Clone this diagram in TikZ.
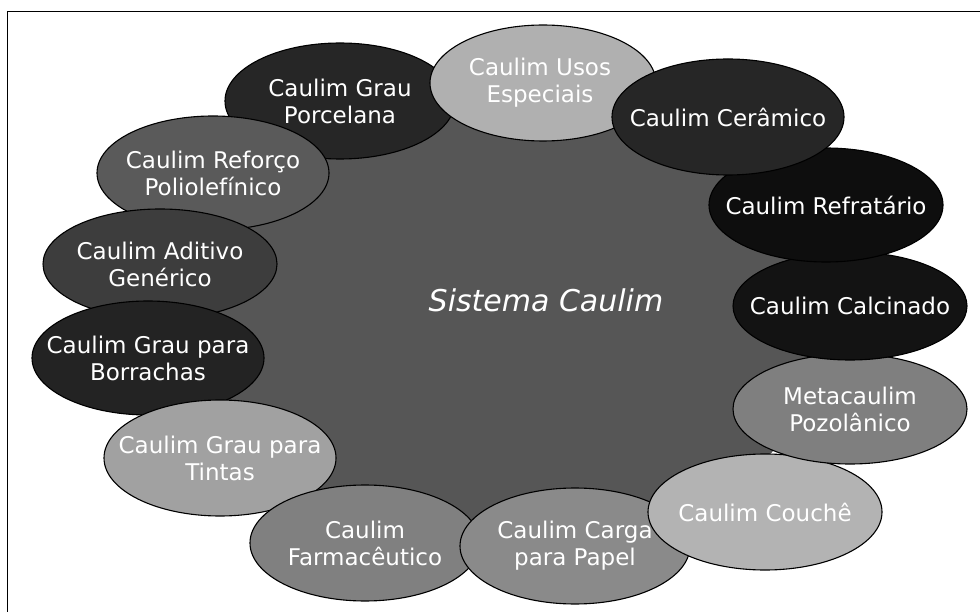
\documentclass[tikz,border=0pt]{standalone}
\usepackage{fontspec}
\setmainfont{DejaVu Sans}
\usetikzlibrary{shapes.geometric}
\definecolor{cCentral}{HTML}{565656}
\definecolor{cPorcelana}{HTML}{262626}
\definecolor{cUsos}{HTML}{B0B0B0}
\definecolor{cCeramico}{HTML}{262626}
\definecolor{cRefratario}{HTML}{0E0E0E}
\definecolor{cCalcinado}{HTML}{131313}
\definecolor{cMeta}{HTML}{7F7F7F}
\definecolor{cCouche}{HTML}{B3B3B3}
\definecolor{cCarga}{HTML}{8A8A8A}
\definecolor{cFarma}{HTML}{808080}
\definecolor{cTintas}{HTML}{A1A1A1}
\definecolor{cBorrachas}{HTML}{232323}
\definecolor{cAditivo}{HTML}{3D3D3D}
\definecolor{cReforco}{HTML}{5A5A5A}
\begin{document}
\begin{tikzpicture}[x=1pt,y=-1pt,
  sat/.style={ellipse, draw=black, line width=1.1pt, inner sep=0pt},
  lab/.style={text=white, align=center, inner sep=0pt, font=\fontsize{23}{27}\selectfont},
  sz/.style 2 args={minimum width=#1pt, minimum height=#2pt},
  hub/.style={ellipse, inner sep=0pt, fill=cCentral, draw=cCentral},
  hubtext/.style={text=white, font=\fontsize{30}{34}\selectfont\itshape, anchor=base, inner sep=0pt}
]
\useasboundingbox (0,0) rectangle (980,612);
\fill[white] (0,0) rectangle (980,612);
\coordinate (bl) at (7.5,612);
\coordinate (tl) at (7.5,11.5);
\coordinate (tr) at (980,11.5);
\draw[line width=1.5pt] (bl) -- (tl) -- (tr);

\node[hub, sz={650}{484}] (hubell) at (495,325) {};
\node[hubtext] (sistema) at (546,312) {Sistema Caulim};

\node[sat, sz={230}{116}, fill=cPorcelana] (porcelana) at (340,101) {};
\node[lab] (porcelanaT) at (porcelana) {Caulim Grau\\Porcelana};
\node[sat, sz={232}{114}, fill=cReforco] (reforco) at (213,173) {};
\node[lab] (reforcoT) at (reforco) {Caulim Reforço\\Poliolefínico};
\node[sat, sz={234}{110}, fill=cAditivo] (aditivo) at (160,264) {};
\node[lab] (aditivoT) at (aditivo) {Caulim Aditivo\\Genérico};
\node[sat, sz={232}{114}, fill=cBorrachas] (borrachas) at (148,358) {};
\node[lab] (borrachasT) at (borrachas) {Caulim Grau para\\Borrachas};
\node[sat, sz={232}{116}, fill=cTintas] (tintas) at (220,458) {};
\node[lab] (tintasT) at (tintas) {Caulim Grau para\\Tintas};
\node[sat, sz={230}{116}, fill=cFarma] (farma) at (365,543) {};
\node[lab] (farmaT) at (farma) {Caulim\\Farmacêutico};
\node[sat, sz={230}{116}, fill=cCarga] (carga) at (575,546) {};
\node[lab] (cargaT) at (carga) {Caulim Carga\\para Papel};
\node[sat, sz={234}{116}, fill=cCouche] (couche) at (765,512) {};
\node[lab] (coucheT) at (couche) {Caulim Couchê};
\node[sat, sz={234}{110}, fill=cMeta] (meta) at (850,409) {};
\node[lab] (metaT) at (meta) {Metacaulim\\Pozolânico};
\node[sat, sz={234}{108}, fill=cCalcinado] (calcinado) at (850,306) {};
\node[lab] (calcinadoT) at (calcinado) {Caulim Calcinado};
\node[sat, sz={234}{114}, fill=cRefratario] (refratario) at (826,205) {};
\node[lab] (refratarioT) at (refratario) {Caulim Refratário};
\node[sat, sz={226}{116}, fill=cUsos] (usos) at (543,83) {};
\node[lab] (usosT) at ([xshift=-3pt]usos.center) {Caulim Usos\\Especiais};
\node[sat, sz={232}{116}, fill=cCeramico] (ceramico) at (728,117) {};
\node[lab] (ceramicoT) at (ceramico) {Caulim Cerâmico};
\end{tikzpicture}
\end{document}
